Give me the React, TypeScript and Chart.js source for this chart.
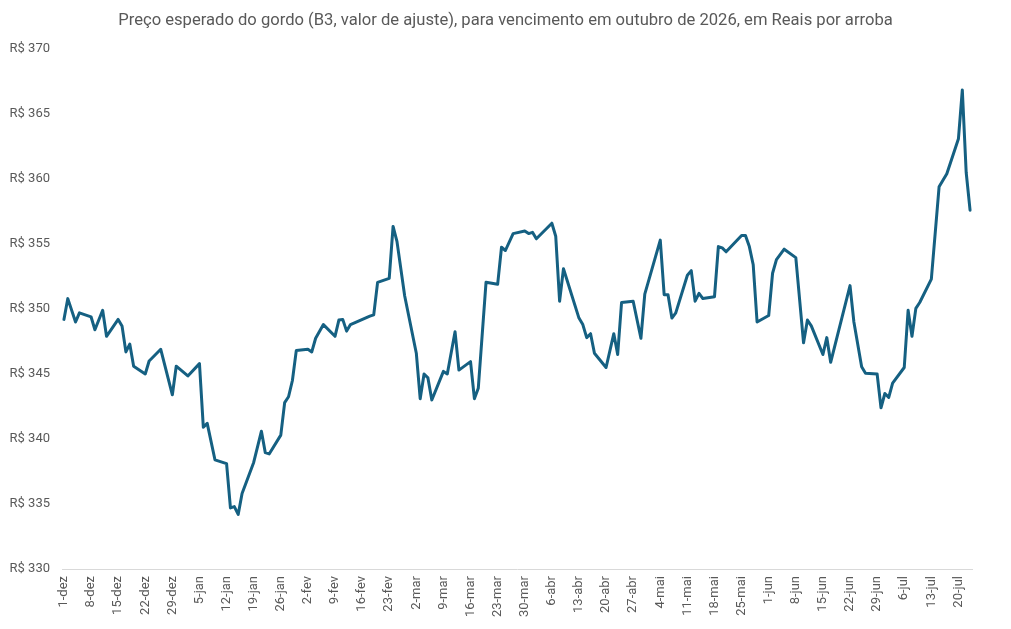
import React, { useEffect, useRef } from "react";
import { Chart, registerables } from "chart.js";

Chart.register(...registerables);

const TITLE =
  "Preço esperado do gordo (B3, valor de ajuste), para vencimento em outubro de 2026, em Reais por arroba";

const dates = [
  "1-dez", "2-dez", "4-dez", "5-dez", "8-dez", "9-dez", "11-dez", "12-dez", "15-dez", "16-dez",
  "17-dez", "18-dez", "19-dez", "22-dez", "23-dez", "26-dez", "29-dez", "30-dez", "2-jan", "5-jan",
  "6-jan", "7-jan", "9-jan", "12-jan", "13-jan", "14-jan", "15-jan", "16-jan", "19-jan", "21-jan",
  "22-jan", "23-jan", "26-jan", "27-jan", "28-jan", "29-jan", "30-jan", "2-fev", "3-fev", "4-fev",
  "6-fev", "9-fev", "10-fev", "11-fev", "12-fev", "13-fev", "18-fev", "19-fev", "20-fev", "23-fev",
  "24-fev", "25-fev", "27-fev", "2-mar", "3-mar", "4-mar", "5-mar", "6-mar", "9-mar", "10-mar",
  "12-mar", "13-mar", "16-mar", "17-mar", "18-mar", "20-mar", "23-mar", "24-mar", "25-mar", "27-mar",
  "30-mar", "31-mar", "1-abr", "2-abr", "6-abr", "7-abr", "8-abr", "9-abr", "13-abr", "14-abr",
  "15-abr", "16-abr", "17-abr", "20-abr", "22-abr", "23-abr", "24-abr", "27-abr", "29-abr", "30-abr",
  "4-mai", "5-mai", "6-mai", "7-mai", "8-mai", "11-mai", "12-mai", "13-mai", "14-mai", "15-mai",
  "18-mai", "19-mai", "20-mai", "21-mai", "25-mai", "26-mai", "27-mai", "28-mai", "29-mai", "1-jun",
  "2-jun", "3-jun", "5-jun", "8-jun", "10-jun", "11-jun", "12-jun", "15-jun", "16-jun", "17-jun",
  "22-jun", "23-jun", "25-jun", "26-jun", "29-jun", "30-jun", "1-jul", "2-jul", "3-jul", "6-jul",
  "7-jul", "8-jul", "9-jul", "10-jul", "13-jul", "15-jul", "17-jul", "20-jul", "21-jul", "22-jul",
  "23-jul",
];

const prices = [
  349.2, 350.8, 349.0, 349.7, 349.4, 348.4, 349.9, 347.9, 349.2, 348.7,
  346.7, 347.3, 345.6, 345.0, 346.0, 346.9, 343.4, 345.6, 344.85, 345.8,
  340.9, 341.2, 338.4, 338.1, 334.7, 334.8, 334.2, 335.8, 338.2, 340.6,
  338.95, 338.85, 340.3, 342.8, 343.25, 344.5, 346.8, 346.9, 346.7, 347.75,
  348.8, 347.9, 349.15, 349.2, 348.3, 348.8, 349.45, 349.55, 352.05, 352.35,
  356.35, 355.2, 351.0, 346.6, 343.1, 345.0, 344.7, 343.0, 345.2, 345.0,
  348.25, 345.3, 345.95, 343.1, 343.9, 352.05, 351.9, 354.75, 354.5, 355.8,
  356.0, 355.8, 355.9, 355.4, 356.6, 355.6, 350.6, 353.1, 349.3, 348.8,
  347.8, 348.1, 346.6, 345.5, 348.1, 346.5, 350.5, 350.6, 347.75, 351.15,
  355.3, 351.1, 351.1, 349.3, 349.7, 352.6, 352.95, 350.6, 351.2, 350.8,
  350.95, 354.8, 354.7, 354.4, 355.65, 355.65, 354.8, 353.4, 349.0, 349.5,
  352.75, 353.8, 354.6, 353.95, 347.4, 349.15, 348.7, 346.5, 347.8, 345.9,
  351.8, 349.0, 345.55, 345.05, 345.0, 342.4, 343.5, 343.2, 344.3, 345.5,
  349.9, 347.9, 350.05, 350.5, 352.3, 359.4, 360.4, 363.1, 366.85, 360.5,
  357.6,
];

const tickLabels = [
  "1-dez", "8-dez", "15-dez", "22-dez", "29-dez", "5-jan", "12-jan", "19-jan", "26-jan",
  "2-fev", "9-fev", "16-fev", "23-fev", "2-mar", "9-mar", "16-mar", "23-mar", "30-mar",
  "6-abr", "13-abr", "20-abr", "27-abr", "4-mai", "11-mai", "18-mai", "25-mai", "1-jun",
  "8-jun", "15-jun", "22-jun", "29-jun", "6-jul", "13-jul", "20-jul",
];

const yTicks = [330, 335, 340, 345, 350, 355, 360, 365, 370];

// days elapsed since 1 Dec 2025 at the start of each month
const monthOffset: Record<string, number> = {
  dez: 0, jan: 31, fev: 62, mar: 90, abr: 121, mai: 151, jun: 182, jul: 212,
};

function dayIndex(label: string): number {
  const [d, m] = label.split("-");
  return monthOffset[m] + parseInt(d, 10) - 1;
}

const centeredTitle = {
  id: "centeredTitle",
  afterDraw(chart: any) {
    const ctx = chart.ctx;
    ctx.save();
    ctx.font = "16.6px Roboto";
    ctx.fillStyle = "#595959";
    ctx.textAlign = "center";
    ctx.textBaseline = "middle";
    ctx.fillText(TITLE, chart.width / 2, 21);
    ctx.restore();
  },
};

export default function App() {
  const ref = useRef<HTMLCanvasElement | null>(null);

  useEffect(() => {
    document.body.style.margin = "0";
    const canvas = ref.current;
    if (!canvas) return;
    const labelByDay: Record<number, string> = {};
    tickLabels.forEach((l) => (labelByDay[dayIndex(l)] = l));

    const chart = new Chart(canvas, {
      type: "line",
      data: {
        datasets: [
          {
            label: "Preço",
            data: dates.map((d, i) => ({ x: dayIndex(d), y: prices[i] })),
            borderColor: "#156082",
            backgroundColor: "#156082",
            borderWidth: 3,
            pointRadius: 0,
            tension: 0,
            borderJoinStyle: "round",
            borderCapStyle: "round",
          },
        ],
      },
      plugins: [centeredTitle],
      options: {
        animation: false,
        responsive: false,
        devicePixelRatio: 1,
        layout: { padding: { left: 0, right: 39, top: 49, bottom: 0 } },
        plugins: {
          legend: { display: false },
          tooltip: { enabled: false },
          title: { display: false },
        },
        scales: {
          x: {
            type: "linear",
            min: -0.5,
            max: 234.5,
            grid: { display: false, drawTicks: false },
            border: { display: true, color: "#D9D9D9", width: 1 },
            afterBuildTicks: (scale: any) => {
              scale.ticks = tickLabels.map((l) => ({ value: dayIndex(l) }));
            },
            afterFit: (scale: any) => {
              scale.height = 60;
            },
            ticks: {
              autoSkip: false,
              minRotation: 90,
              maxRotation: 90,
              padding: 7,
              color: "#595959",
              font: { family: "Roboto", size: 13 },
              callback: (v: any) => labelByDay[v as number] ?? "",
            },
          },
          y: {
            min: 330,
            max: 370,
            grid: { display: false, drawTicks: false },
            border: { display: false },
            afterBuildTicks: (scale: any) => {
              scale.ticks = yTicks.map((v) => ({ value: v }));
            },
            afterFit: (scale: any) => {
              scale.width = 62;
            },
            ticks: {
              padding: 12,
              color: "#595959",
              font: { family: "Roboto", size: 13 },
              callback: (v: any) => "R$ " + v,
            },
          },
        },
      },
    });
    return () => chart.destroy();
  }, []);

  return (
    <div style={{ width: 1011, height: 629 }}>
      <canvas ref={ref} width={1011} height={629} />
    </div>
  );
}
